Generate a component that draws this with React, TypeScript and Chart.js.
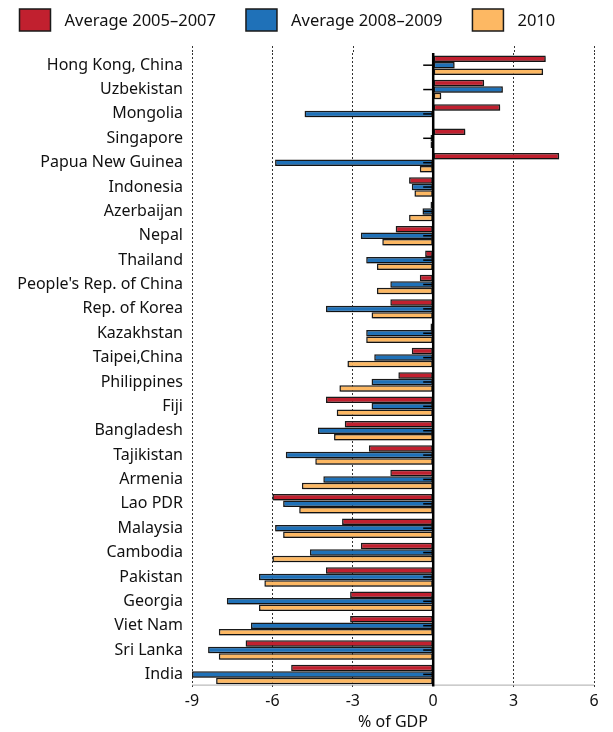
import React, { useEffect, useRef } from "react";
import { Chart, registerables } from "chart.js";

Chart.register(...registerables);

const categories = [
  "Hong Kong, China",
  "Uzbekistan",
  "Mongolia",
  "Singapore",
  "Papua New Guinea",
  "Indonesia",
  "Azerbaijan",
  "Nepal",
  "Thailand",
  "People's Rep. of China",
  "Rep. of Korea",
  "Kazakhstan",
  "Taipei,China",
  "Philippines",
  "Fiji",
  "Bangladesh",
  "Tajikistan",
  "Armenia",
  "Lao PDR",
  "Malaysia",
  "Cambodia",
  "Pakistan",
  "Georgia",
  "Viet Nam",
  "Sri Lanka",
  "India",
];

const avg2005_2007 = [
  4.2, 1.9, 2.5, 1.2, 4.7, -0.9, -0.1, -1.4, -0.3, -0.5, -1.6, -0.1, -0.8, -1.3,
  -4.0, -3.3, -2.4, -1.6, -6.0, -3.4, -2.7, -4.0, -3.1, -3.1, -7.0, -5.3,
];
const avg2008_2009 = [
  0.8, 2.6, -4.8, -0.1, -5.9, -0.8, -0.4, -2.7, -2.5, -1.6, -4.0, -2.5, -2.2, -2.3,
  -2.3, -4.3, -5.5, -4.1, -5.6, -5.9, -4.6, -6.5, -7.7, -6.8, -8.4, -9.0,
];
const y2010 = [
  4.1, 0.3, 0.0, -0.1, -0.5, -0.7, -0.9, -1.9, -2.1, -2.1, -2.3, -2.5, -3.2, -3.5,
  -3.6, -3.7, -4.4, -4.9, -5.0, -5.6, -6.0, -6.3, -6.5, -8.0, -8.0, -8.1,
];

const seriesLabels = ["Average 2005\u20132007", "Average 2008\u20132009", "2010"];
const seriesColors = ["#C1202F", "#1F71B8", "#FDB863"];

const xTicks = [-9, -6, -3, 0, 3, 6];

const FONT = "'Noto Sans', sans-serif";
const EDGE = "#1a1a1a";

const legendPlugin = {
  id: "customLegend",
  afterDraw(chart: any) {
    const { ctx } = chart;
    ctx.save();
    ctx.font = `16.5px ${FONT}`;
    ctx.textBaseline = "middle";
    ctx.textAlign = "left";
    let x = 19.5;
    const y = 9;
    const bw = 31;
    const bh = 22;
    chart.data.datasets.forEach((ds: any) => {
      ctx.fillStyle = ds.backgroundColor;
      ctx.fillRect(x, y, bw, bh);
      ctx.strokeStyle = EDGE;
      ctx.lineWidth = 1.5;
      ctx.strokeRect(x, y, bw, bh);
      ctx.fillStyle = "#111";
      const tx = x + bw + 14;
      ctx.fillText(ds.label, tx, y + bh / 2 + 1);
      x = tx + ctx.measureText(ds.label).width + 30;
    });
    ctx.restore();
  },
};

const overlayPlugin = {
  id: "overlay",
  beforeDatasetsDraw(chart: any) {
    const { ctx, chartArea, scales } = chart;
    const xs = scales.x;
    ctx.save();
    ctx.strokeStyle = "#333";
    ctx.lineWidth = 1;
    ctx.setLineDash([2, 2]);
    xTicks.forEach((v) => {
      if (v === 0) return;
      const x = Math.round(xs.getPixelForValue(v)) + 0.5;
      ctx.beginPath();
      ctx.moveTo(x, chartArea.top - 7);
      ctx.lineTo(x, chartArea.top);
      ctx.stroke();
    });
    ctx.restore();
    ctx.save();
    ctx.shadowColor = "rgba(0,0,0,0.35)";
    ctx.shadowOffsetX = 1;
    ctx.shadowOffsetY = 1.5;
    ctx.shadowBlur = 1.5;
  },
  afterDatasetsDraw(chart: any) {
    const { ctx, chartArea, scales } = chart;
    ctx.restore();
    const xs = scales.x;
    const ys = scales.y;
    const x0 = xs.getPixelForValue(0);
    ctx.save();
    ctx.strokeStyle = "#aaaaaa";
    ctx.lineWidth = 1;
    ctx.beginPath();
    ctx.moveTo(chartArea.left, chartArea.bottom - 1.5);
    ctx.lineTo(chartArea.right, chartArea.bottom - 1.5);
    ctx.stroke();
    ctx.strokeStyle = "#000";
    ctx.lineWidth = 2.5;
    ctx.beginPath();
    ctx.moveTo(x0, chartArea.top);
    ctx.lineTo(x0, chartArea.bottom);
    ctx.stroke();
    ctx.lineWidth = 1.5;
    categories.forEach((_, i) => {
      const y = ys.getPixelForValue(i);
      ctx.beginPath();
      ctx.moveTo(x0 - 10, y);
      ctx.lineTo(x0, y);
      ctx.stroke();
    });
    ctx.restore();
  },
};

export default function App() {
  const ref = useRef<HTMLCanvasElement>(null);

  useEffect(() => {
    if (!ref.current) return;
    const common = {
      borderColor: EDGE,
      borderWidth: 1.5,
      borderSkipped: false as const,
      barPercentage: 1.0,
      categoryPercentage: 0.8,
    };
    const seriesData = [avg2005_2007, avg2008_2009, y2010];
    const chart = new Chart(ref.current, {
      type: "bar",
      data: {
        labels: categories,
        datasets: seriesData.map((d, i) => ({
          label: seriesLabels[i],
          data: d,
          backgroundColor: seriesColors[i],
          ...common,
        })),
      },
      options: {
        indexAxis: "y",
        animation: false,
        responsive: true,
        maintainAspectRatio: false,
        layout: { padding: { left: 0, right: 19, top: 53, bottom: 0 } },
        plugins: {
          legend: { display: false },
          tooltip: { enabled: false },
        },
        scales: {
          x: {
            min: -9,
            max: 6,
            afterBuildTicks: (s: any) => {
              s.ticks = xTicks.map((v) => ({ value: v }));
            },
            ticks: {
              color: "#111",
              font: { family: FONT, size: 16 },
              padding: 5,
            },
            grid: {
              drawTicks: false,
              color: (c: any) => (c.tick && c.tick.value === 0 ? "rgba(0,0,0,0)" : "#333"),
              lineWidth: 1,
            },
            border: { display: false, dash: [2, 2] },
            title: {
              display: true,
              text: "% of GDP",
              color: "#111",
              font: { family: FONT, size: 16 },
              padding: { top: -3, bottom: 0 },
            },
          },
          y: {
            afterFit: (s: any) => {
              s.width = 192;
            },
            ticks: {
              color: "#111",
              font: { family: FONT, size: 16 },
              padding: 9,
              autoSkip: false,
            },
            grid: { display: false, drawTicks: false },
            border: { display: false },
          },
        },
      },
      plugins: [legendPlugin, overlayPlugin],
    });
    return () => chart.destroy();
  }, []);

  return (
    <div style={{ position: "absolute", left: 0, top: 0, width: 613, height: 732 }}>
      <canvas ref={ref} />
    </div>
  );
}
